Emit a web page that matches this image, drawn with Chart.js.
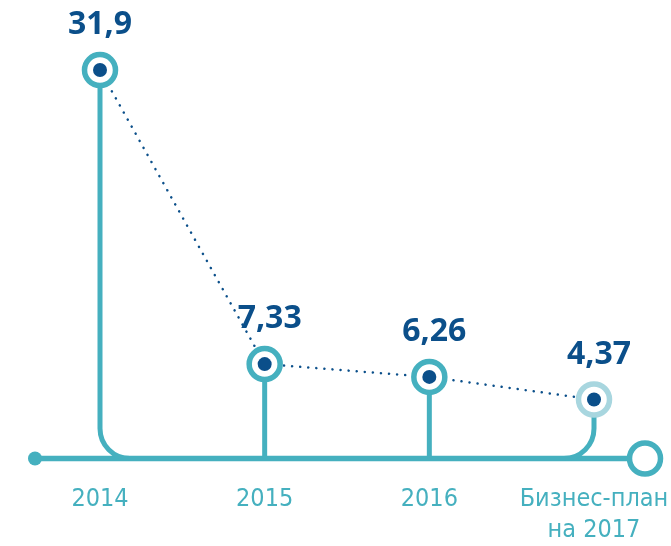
<!DOCTYPE html>
<html>
<head>
<meta charset="utf-8">
<script src="https://cdn.jsdelivr.net/npm/chart.js@4"></script>
<style>
  html, body { margin: 0; padding: 0; background: #fff; }
  #wrap { width: 671px; height: 546px; }
</style>
</head>
<body>
<div id="wrap"><canvas id="lossChart" width="671" height="546"></canvas></div>
<script>
// data
const categories = ['2014', '2015', '2016', ['Бизнес-план', 'на 2017']];
const values = [31.9, 7.33, 6.26, 4.37];
const valueLabels = ['31,9', '7,33', '6,26', '4,37'];

const teal = '#45b0bf';
const tealLight = '#a8d6df';
const navy = '#0b4f8a';
const baseY = 458.5;

// stems, baseline and end markers, drawn under the points
const railPlugin = {
    id: 'rail',
    beforeDatasetsDraw(chart) {
        const ctx = chart.ctx;
        const xs = chart.scales.x;
        const pts = chart.getDatasetMeta(0).data;
        const r = 30;
        const first = xs.getPixelForValue(0);
        const last = xs.getPixelForValue(values.length - 1);
        ctx.save();
        ctx.strokeStyle = teal;
        ctx.lineCap = 'butt';

        // baseline
        ctx.lineWidth = 5.5;
        ctx.beginPath();
        ctx.moveTo(first - 65, baseY);
        ctx.lineTo(last + 36, baseY);
        ctx.stroke();

        // stems
        ctx.lineWidth = 5;
        pts.forEach((p, i) => {
            ctx.beginPath();
            if (i === 0) {
                ctx.moveTo(p.x, p.y);
                ctx.lineTo(p.x, baseY - r);
                ctx.arcTo(p.x, baseY, p.x + r, baseY, r);
            } else if (i === pts.length - 1) {
                ctx.moveTo(p.x, p.y);
                ctx.lineTo(p.x, baseY - r);
                ctx.arcTo(p.x, baseY, p.x - r, baseY, r);
            } else {
                ctx.moveTo(p.x, p.y);
                ctx.lineTo(p.x, baseY);
            }
            ctx.stroke();
        });

        // left dot
        ctx.fillStyle = teal;
        ctx.beginPath();
        ctx.arc(first - 65, baseY, 7, 0, Math.PI * 2);
        ctx.fill();

        // right open circle
        ctx.fillStyle = '#fff';
        ctx.lineWidth = 5.5;
        ctx.beginPath();
        ctx.arc(last + 51, baseY, 15.5, 0, Math.PI * 2);
        ctx.fill();
        ctx.stroke();
        ctx.restore();
    },
    afterDatasetsDraw(chart) {
        const ctx = chart.ctx;
        const pts = chart.getDatasetMeta(0).data;
        ctx.save();
        ctx.fillStyle = navy;
        ctx.font = "bold 32px 'Open Sans', sans-serif";
        ctx.textAlign = 'center';
        ctx.textBaseline = 'middle';
        pts.forEach((p, i) => {
            const dx = i === 0 ? 0 : 5;
            ctx.fillText(valueLabels[i], p.x + dx, p.y - 45);
        });
        ctx.restore();
    }
};

const ctx = document.getElementById('lossChart').getContext('2d');
const lossChart = new Chart(ctx, {
    type: 'line',
    data: {
        labels: categories,
        datasets: [{
            data: values,
            order: 1,
            borderColor: navy,
            borderWidth: 2.5,
            borderDash: [0.1, 8],
            borderCapStyle: 'round',
            tension: 0,
            pointRadius: 15.5,
            pointBorderWidth: 5.5,
            pointBackgroundColor: '#fff',
            pointBorderColor: [teal, teal, teal, tealLight],
            pointHoverRadius: 15.5,
            clip: false
        }, {
            data: values,
            order: 0,
            showLine: false,
            pointRadius: 7,
            pointBorderWidth: 0,
            pointBackgroundColor: navy,
            pointHoverRadius: 7,
            clip: false
        }]
    },
    options: {
        responsive: false,
        animation: false,
        events: [],
        layout: { padding: { left: 100, right: 77, top: 18 } },
        plugins: {
            legend: { display: false },
            tooltip: { enabled: false }
        },
        scales: {
            x: {
                offset: false,
                grid: { display: false, drawTicks: false },
                border: { display: false },
                ticks: {
                    color: teal,
                    padding: 25,
                    maxRotation: 0,
                    font: { family: "'DejaVu Sans Condensed', 'Liberation Sans Narrow', 'DejaVu Sans', sans-serif", size: 25, lineHeight: 1.25 }
                },
                afterFit(scale) {
                    scale.height = 87;
                    scale.paddingLeft = 0;
                    scale.paddingRight = 0;
                }
            },
            y: {
                display: false,
                min: -0.6,
                max: 36
            }
        }
    },
    plugins: [railPlugin]
});
</script>
</body>
</html>
